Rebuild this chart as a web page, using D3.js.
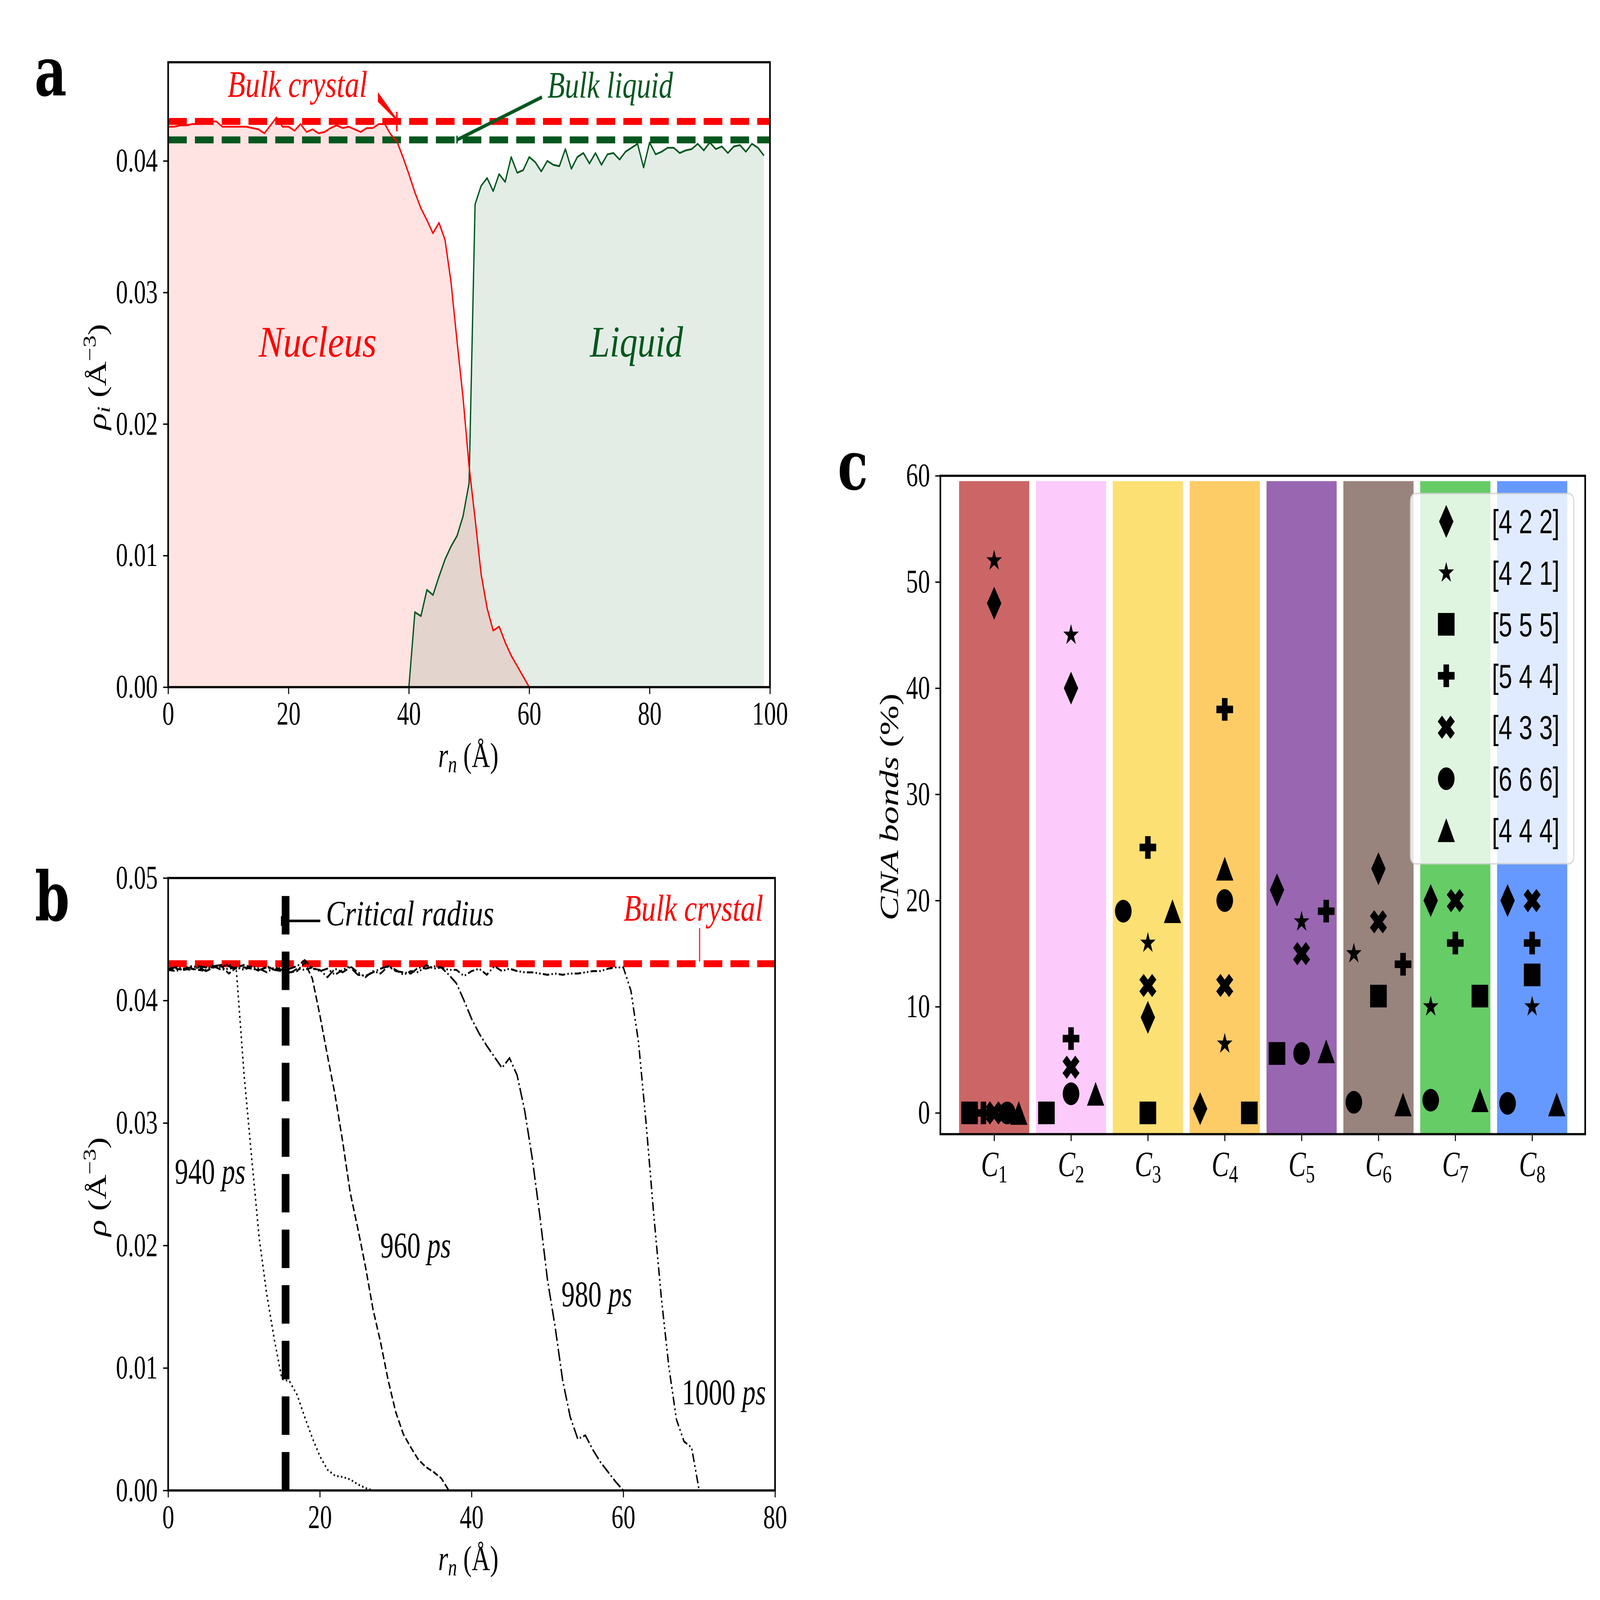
<!DOCTYPE html>
<html>
<head>
<meta charset="utf-8">
<script src="https://cdn.jsdelivr.net/npm/d3@7"></script>
<style>
  html, body { margin: 0; padding: 0; background: #fff; overflow: hidden; }
  svg { display: block; width: 100vw; height: 100vh; }
</style>
</head>
<body>
<svg id="fig"></svg>
<script>
// ---------- panel a : radial density of nucleus / liquid ----------
var rNucleus = d3.range(0, 61);
var rhoNucleus = [
  0.0426,0.0426,0.0427,0.0427,0.0428,0.0428,0.0429,0.0430,0.0430,0.0426,
  0.0426,0.0426,0.0426,0.0426,0.0425,0.0424,0.0421,0.0427,0.0433,0.0426,
  0.0426,0.0423,0.0428,0.0422,0.0424,0.0421,0.0422,0.0425,0.0427,0.0425,
  0.0426,0.0424,0.0422,0.0425,0.0425,0.0428,0.0428,0.0420,0.0415,0.0403,
  0.0390,0.0376,0.0364,0.0355,0.0345,0.0353,0.0340,0.0308,0.0263,0.0220,
  0.0168,0.0128,0.0086,0.0060,0.0043,0.0046,0.0034,0.0024,0.0016,0.0008,
  0.0000];
var rLiquid = d3.range(40, 100);
var rhoLiquid = [
  0.0000,0.0057,0.0054,0.0074,0.0070,0.0084,0.0097,0.0107,0.0115,0.0130,
  0.0155,0.0367,0.0381,0.0387,0.0377,0.0390,0.0384,0.0403,0.0391,0.0393,
  0.0403,0.0399,0.0392,0.0400,0.0397,0.0396,0.0409,0.0394,0.0403,0.0406,
  0.0398,0.0406,0.0397,0.0405,0.0406,0.0401,0.0407,0.0410,0.0413,0.0395,
  0.0414,0.0405,0.0407,0.0410,0.0410,0.0406,0.0408,0.0409,0.0413,0.0408,
  0.0414,0.0409,0.0411,0.0406,0.0411,0.0412,0.0407,0.0413,0.0410,0.0404];
var bulkCrystal = 0.043, bulkLiquid = 0.0416;
var ticksAx = [0, 20, 40, 60, 80, 100];
var ticksAy = [0, 0.01, 0.02, 0.03, 0.04];

// ---------- panel b : profiles at four times ----------
var times = ["940", "960", "980", "1000"];
var r940 = d3.range(0, 28).concat([80]);
var rho940 = [
  0.0426,0.0427,0.0426,0.0428,0.0427,0.0425,0.0429,0.0427,0.0430,0.0424,
  0.0340,0.0272,0.0206,0.0160,0.0123,0.0091,0.0089,0.0078,0.0060,0.0043,
  0.0028,0.0017,0.0012,0.0011,0.0009,0.0005,0.0002,0.0000,0.0000];
var r960 = d3.range(0, 38).concat([80]);
var rho960 = [
  0.0425,0.0426,0.0425,0.0426,0.0425,0.0424,0.0427,0.0428,0.0422,0.0427,
  0.0429,0.0427,0.0424,0.0428,0.0425,0.0427,0.0423,0.0424,0.0431,0.0418,
  0.0388,0.0355,0.0323,0.0285,0.0243,0.0214,0.0183,0.0148,0.0121,0.0090,
  0.0064,0.0046,0.0035,0.0025,0.0019,0.0015,0.0010,0.0000,0.0000];
var r980 = d3.range(0, 61).concat([80]);
var rho980 = [
  0.0426,0.0427,0.0426,0.0427,0.0428,0.0427,0.0428,0.0429,0.0428,0.0426,
  0.0427,0.0426,0.0425,0.0427,0.0425,0.0424,0.0426,0.0428,0.0433,0.0426,
  0.0425,0.0419,0.0426,0.0423,0.0427,0.0421,0.0420,0.0423,0.0426,0.0428,
  0.0424,0.0423,0.0422,0.0427,0.0426,0.0428,0.0427,0.0421,0.0414,0.0400,
  0.0385,0.0373,0.0363,0.0354,0.0345,0.0353,0.0339,0.0310,0.0271,0.0224,
  0.0172,0.0134,0.0090,0.0060,0.0042,0.0045,0.0033,0.0023,0.0015,0.0007,
  0.0000,0.0000];
var r1000 = d3.range(0, 71).concat([80]);
var rho1000 = [
  0.0425,0.0424,0.0426,0.0425,0.0427,0.0424,0.0428,0.0425,0.0426,0.0427,
  0.0425,0.0428,0.0426,0.0423,0.0427,0.0425,0.0422,0.0426,0.0425,0.0427,
  0.0424,0.0426,0.0421,0.0425,0.0428,0.0423,0.0419,0.0424,0.0422,0.0428,
  0.0425,0.0421,0.0424,0.0423,0.0429,0.0426,0.0427,0.0425,0.0425,0.0420,
  0.0424,0.0426,0.0421,0.0428,0.0424,0.0426,0.0424,0.0423,0.0423,0.0422,
  0.0421,0.0422,0.0421,0.0422,0.0422,0.0423,0.0424,0.0424,0.0426,0.0427,
  0.0427,0.0408,0.0366,0.0300,0.0226,0.0158,0.0101,0.0058,0.0040,0.0035,
  0.0000,0.0000];
var criticalRadius = 15.48;
var ticksBx = [0, 20, 40, 60, 80];
var ticksBy = [0, 0.01, 0.02, 0.03, 0.04, 0.05];

// ---------- panel c : CNA bond fractions per cluster ----------
var clusterIds = ["1", "2", "3", "4", "5", "6", "7", "8"];
var clusterColors = ["#cc6666", "#fccbfc", "#fde073", "#fecc66", "#9966b2", "#99837d", "#66cc66", "#6699ff"];
var barTop = [59.5, 59.5, 59.5, 59.5, 59.5, 59.5, 59.5, 59.5];
var cnaTypes = ["[4 2 2]", "[4 2 1]", "[5 5 5]", "[5 4 4]", "[4 3 3]", "[6 6 6]", "[4 4 4]"];
var pct422 = [48, 40, 9, 0.4, 21, 23, 20, 20];
var pct421 = [52, 45, 16, 6.5, 18, 15, 10, 10];
var pct555 = [0, 0, 0, 0, 5.6, 11, 11, 13];
var pct544 = [0, 7, 25, 38, 19, 14, 16, 16];
var pct433 = [0, 4.3, 12, 12, 15, 18, 20, 20];
var pct666 = [0, 1.8, 19, 20, 5.6, 1, 1.2, 0.9];
var pct444 = [0, 1.8, 19, 23, 5.8, 0.8, 1.2, 0.8];
// sideways shift of a marker inside its bar (bar index units)
var shift422 = [0, 0, 0, -0.32, -0.32, 0, -0.32, -0.32];
var shift421 = [0, 0, 0, 0, 0, -0.32, -0.32, 0];
var shift555 = [-0.32, -0.32, 0, 0.32, -0.32, 0, 0.32, 0];
var shift544 = [-0.14, 0, 0, 0, 0.32, 0.32, 0, 0];
var shift433 = [0, 0, 0, 0, 0, 0, 0, 0];
var shift666 = [0.17, 0, -0.32, 0, 0, -0.32, -0.32, -0.32];
var shift444 = [0.32, 0.32, 0.32, 0, 0.32, 0.32, 0.32, 0.32];
var ticksCy = [0, 10, 20, 30, 40, 50, 60];

var W = 7888, H = 5784;
var SERIF = '"Liberation Serif", "DejaVu Serif", serif';
var SANS = '"Liberation Sans", Arial, sans-serif';
var RED = "#ff0000", GREEN = "#04571e";

// fill the whole window whatever its size
var svg = d3.select("#fig").attr("viewBox", [0, 0, W, H]).attr("preserveAspectRatio", "none");
svg.append("rect").attr("width", W).attr("height", H).attr("fill", "#fff");
var defs = svg.append("defs");

function styleAxis(g) {
  g.attr("font-family", SERIF).attr("font-size", 118);
  g.select(".domain").remove();
  g.selectAll(".tick line").attr("stroke", "#000").attr("stroke-width", 5);
  g.selectAll(".tick text").attr("fill", "#000");
}
function frame(g, p) {
  g.append("rect").attr("x", p.l).attr("y", p.t).attr("width", p.r - p.l).attr("height", p.b - p.t)
    .attr("fill", "none").attr("stroke", "#000").attr("stroke-width", 8);
}
function clip(id, p) {
  defs.append("clipPath").attr("id", id).append("rect")
    .attr("x", p.l).attr("y", p.t).attr("width", p.r - p.l).attr("height", p.b - p.t);
  return "url(#" + id + ")";
}
function panelLetter(txt, x, y) {
  svg.append("text").attr("x", x).attr("y", y).attr("font-family", '"DejaVu Serif", serif')
    .attr("font-weight", "bold").attr("font-size", 245).attr("fill", "#000").text(txt);
}
function pairs(xs, ys) { return xs.map(function(v, i) { return [v, ys[i]]; }); }

// =================== panel a ===================
var pa = {l: 829, r: 3796, t: 225, b: 2484};
var xA = d3.scaleLinear().domain([0, 100]).range([pa.l, pa.r]);
var yA = d3.scaleLinear().domain([0, 0.0475]).range([pa.b, pa.t]);
var gA = svg.append("g");
var plotA = gA.append("g").attr("clip-path", clip("clipA", pa));

var areaA = d3.area().x(function(d) { return xA(d[0]); }).y0(yA(0)).y1(function(d) { return yA(d[1]); });
var lineA = d3.line().x(function(d) { return xA(d[0]); }).y(function(d) { return yA(d[1]); });

plotA.append("path").datum(pairs(rNucleus, rhoNucleus)).attr("d", areaA)
  .attr("fill", RED).attr("fill-opacity", 0.11);
plotA.append("path").datum(pairs(rLiquid, rhoLiquid)).attr("d", areaA)
  .attr("fill", GREEN).attr("fill-opacity", 0.11);

[[bulkCrystal, RED], [bulkLiquid, GREEN]].forEach(function(h) {
  plotA.append("line").attr("x1", xA(0)).attr("x2", xA(100)).attr("y1", yA(h[0])).attr("y2", yA(h[0]))
    .attr("stroke", h[1]).attr("stroke-width", 25).attr("stroke-dasharray", "92,40");
});

plotA.append("path").datum(pairs(rLiquid, rhoLiquid)).attr("d", lineA)
  .attr("fill", "none").attr("stroke", GREEN).attr("stroke-width", 6.5).attr("stroke-linejoin", "round");
plotA.append("path").datum(pairs(rNucleus, rhoNucleus)).attr("d", lineA)
  .attr("fill", "none").attr("stroke", RED).attr("stroke-width", 6.5).attr("stroke-linejoin", "round");

// annotations
var tipC = [xA(38), yA(bulkCrystal)];
gA.append("path").attr("fill", RED)
  .attr("d", "M1863,333L" + (tipC[0] + 2) + "," + (tipC[1] - 8) + "L" + tipC[0] + "," + (tipC[1] - 2) + "L1863,368Z");
gA.append("line").attr("x1", tipC[0]).attr("x2", tipC[0]).attr("y1", tipC[1] - 35).attr("y2", tipC[1] + 36)
  .attr("stroke", RED).attr("stroke-width", 7);
gA.append("text").attr("x", 1122).attr("y", 350).attr("font-family", SERIF).attr("font-style", "italic")
  .attr("font-size", 135).attr("fill", RED).attr("textLength", 689).attr("lengthAdjust", "spacingAndGlyphs")
  .text("Bulk crystal");

var tipL = [xA(48), yA(bulkLiquid)];
gA.append("line").attr("x1", 2672).attr("y1", 351).attr("x2", tipL[0]).attr("y2", tipL[1])
  .attr("stroke", GREEN).attr("stroke-width", 13);
gA.append("line").attr("x1", tipL[0]).attr("x2", tipL[0]).attr("y1", tipL[1] - 15).attr("y2", tipL[1] + 13)
  .attr("stroke", GREEN).attr("stroke-width", 7);
gA.append("text").attr("x", 2699).attr("y", 353).attr("font-family", SERIF).attr("font-style", "italic")
  .attr("font-size", 135).attr("fill", GREEN).attr("textLength", 619).attr("lengthAdjust", "spacingAndGlyphs")
  .text("Bulk liquid");

gA.append("text").attr("x", 1566).attr("y", 1289).attr("text-anchor", "middle").attr("font-family", SERIF)
  .attr("font-style", "italic").attr("font-size", 158).attr("fill", RED)
  .attr("textLength", 581).attr("lengthAdjust", "spacingAndGlyphs").text("Nucleus");
gA.append("text").attr("x", 3138).attr("y", 1289).attr("text-anchor", "middle").attr("font-family", SERIF)
  .attr("font-style", "italic").attr("font-size", 158).attr("fill", GREEN)
  .attr("textLength", 459).attr("lengthAdjust", "spacingAndGlyphs").text("Liquid");

gA.append("g").attr("transform", "translate(0," + pa.b + ")")
  .call(d3.axisBottom(xA).tickValues(ticksAx).tickFormat(d3.format("d")).tickSize(25).tickPadding(27))
  .call(styleAxis);
gA.append("g").attr("transform", "translate(" + pa.l + ",0)")
  .call(d3.axisLeft(yA).tickValues(ticksAy).tickFormat(d3.format(".2f")).tickSize(25).tickPadding(26))
  .call(styleAxis);
frame(gA, pa);

function rLabel(g, x, y) {
  var t = g.append("text").attr("x", x).attr("y", y).attr("text-anchor", "middle")
    .attr("font-family", SERIF).attr("font-size", 125).attr("fill", "#000");
  t.append("tspan").attr("font-style", "italic").text("r");
  t.append("tspan").attr("font-style", "italic").attr("font-size", 88).attr("dy", 20).text("n");
  t.append("tspan").attr("dy", -20).text(" (Å)");
}
function rhoLabel(g, x, y, sub) {
  var t = g.append("text").attr("transform", "translate(" + x + "," + y + ") rotate(-90)")
    .attr("text-anchor", "middle").attr("font-family", SERIF).attr("font-size", 125).attr("fill", "#000");
  t.append("tspan").attr("font-style", "italic").text("ρ");
  if (sub) t.append("tspan").attr("font-style", "italic").attr("font-size", 88).attr("dy", 20).text(sub);
  t.append("tspan").attr("dy", sub ? -20 : 0).text(" (Å");
  t.append("tspan").attr("font-size", 88).attr("dy", -50).text("−3");
  t.append("tspan").attr("dy", 50).text(")");
}
rLabel(gA, 2309, 2772);
rhoLabel(gA, 522, 1362, "i");
panelLetter("a", 170, 346);

// =================== panel b ===================
var pb = {l: 829, r: 3821, t: 3174, b: 5388};
var xB = d3.scaleLinear().domain([0, 80]).range([pb.l, pb.r]);
var yB = d3.scaleLinear().domain([0, 0.05]).range([pb.b, pb.t]);
var gB = svg.append("g");
var plotB = gB.append("g").attr("clip-path", clip("clipB", pb));
var lineB = d3.line().x(function(d) { return xB(d[0]); }).y(function(d) { return yB(d[1]); });

plotB.append("line").attr("x1", xB(0)).attr("x2", xB(80)).attr("y1", yB(bulkCrystal)).attr("y2", yB(bulkCrystal))
  .attr("stroke", RED).attr("stroke-width", 25).attr("stroke-dasharray", "92,40");

var curvesB = [
  {r: r940, rho: rho940, dash: "7,11.5"},
  {r: r960, rho: rho960, dash: "26,11"},
  {r: r980, rho: rho980, dash: "45,11,7,11"},
  {r: r1000, rho: rho1000, dash: "32,11,7,11,7,11"}
];
curvesB.forEach(function(c) {
  plotB.append("path").datum(pairs(c.r, c.rho)).attr("d", lineB)
    .attr("fill", "none").attr("stroke", "#000").attr("stroke-width", 7).attr("stroke-dasharray", c.dash);
});

plotB.append("line").attr("x1", xB(criticalRadius)).attr("x2", xB(criticalRadius))
  .attr("y1", yB(0)).attr("y2", yB(0.05))
  .attr("stroke", "#000").attr("stroke-width", 38).attr("stroke-dasharray", "139,62");

// annotations
gB.append("line").attr("x1", 1579).attr("x2", xB(criticalRadius) - 20).attr("y1", 3329).attr("y2", 3329)
  .attr("stroke", "#000").attr("stroke-width", 9);
gB.append("line").attr("x1", xB(criticalRadius) - 20).attr("x2", xB(criticalRadius) - 20)
  .attr("y1", 3312).attr("y2", 3347).attr("stroke", "#000").attr("stroke-width", 6);
gB.append("text").attr("x", 1607).attr("y", 3346).attr("font-family", SERIF).attr("font-style", "italic")
  .attr("font-size", 128).attr("fill", "#000").attr("textLength", 829).attr("lengthAdjust", "spacingAndGlyphs")
  .text("Critical radius");
gB.append("line").attr("x1", 3449).attr("x2", 3449).attr("y1", 3355).attr("y2", yB(bulkCrystal) - 8)
  .attr("stroke", RED).attr("stroke-width", 5);
gB.append("text").attr("x", 3074).attr("y", 3328).attr("font-family", SERIF).attr("font-style", "italic")
  .attr("font-size", 135).attr("fill", RED).attr("textLength", 689).attr("lengthAdjust", "spacingAndGlyphs")
  .text("Bulk crystal");

var timeLabelPos = [[862, 4278], [1875, 4545], [2768, 4722], [3362, 5077]];
times.forEach(function(tm, i) {
  var t = gB.append("text").attr("x", timeLabelPos[i][0]).attr("y", timeLabelPos[i][1])
    .attr("font-family", SERIF).attr("font-size", 132).attr("fill", "#000");
  t.append("tspan").text(tm + " ");
  t.append("tspan").attr("font-style", "italic").text("ps");
});

gB.append("g").attr("transform", "translate(0," + pb.b + ")")
  .call(d3.axisBottom(xB).tickValues(ticksBx).tickFormat(d3.format("d")).tickSize(25).tickPadding(27))
  .call(styleAxis);
gB.append("g").attr("transform", "translate(" + pb.l + ",0)")
  .call(d3.axisLeft(yB).tickValues(ticksBy).tickFormat(d3.format(".2f")).tickSize(25).tickPadding(26))
  .call(styleAxis);
frame(gB, pb);
rLabel(gB, 2309, 5675);
rhoLabel(gB, 522, 4290, null);
panelLetter("b", 172, 3328);

// =================== panel c ===================
var pc = {l: 4636, r: 7815, t: 1720, b: 4100};
var xC = d3.scaleLinear().domain([-0.70, 7.69]).range([pc.l, pc.r]);
var yC = d3.scaleLinear().domain([-2, 60]).range([pc.b, pc.t]);
var gC = svg.append("g");
var plotC = gC.append("g").attr("clip-path", clip("clipC", pc));
var barW = xC(0.913) - xC(0);

plotC.selectAll(".bar").data(barTop).enter().append("rect").attr("class", "bar")
  .attr("x", function(d, i) { return xC(i) - barW / 2; })
  .attr("y", function(d) { return yC(d); })
  .attr("width", barW)
  .attr("height", function(d) { return yC(-2) - yC(d); })
  .attr("fill", function(d, i) { return clusterColors[i]; });

// marker shapes, sized in px
function starPath(R) {
  var p = [];
  for (var k = 0; k < 10; k++) {
    var a = -Math.PI / 2 + k * Math.PI / 5, rr = k % 2 ? R * 0.381966 : R;
    p.push([(rr * Math.cos(a)).toFixed(2), (rr * Math.sin(a)).toFixed(2)]);
  }
  return "M" + p.join("L") + "Z";
}
function polyPath(pts, s) {
  return "M" + pts.map(function(q) { return [q[0] * s, q[1] * s]; }).join("L") + "Z";
}
var markerPaths = [
  "M0,-59.5L35.5,0L0,59.5L-35.5,0Z",
  starPath(40),
  "M-41,-41H41V41H-41Z",
  polyPath([[-1,-3],[1,-3],[1,-1],[3,-1],[3,1],[1,1],[1,3],[-1,3],[-1,1],[-3,1],[-3,-1],[-1,-1]], 41 / 3),
  polyPath([[-1,-2],[0,-1],[1,-2],[2,-1],[1,0],[2,1],[1,2],[0,1],[-1,2],[-2,1],[-1,0],[-2,-1]], 21),
  "M-41,0A41,41 0 1,0 41,0A41,41 0 1,0 -41,0Z",
  "M0,-43L42.5,43L-42.5,43Z"
];
var pctSeries = [pct422, pct421, pct555, pct544, pct433, pct666, pct444];
var shiftSeries = [shift422, shift421, shift555, shift544, shift433, shift666, shift444];

pctSeries.forEach(function(vals, k) {
  plotC.selectAll(".m" + k).data(vals).enter().append("path").attr("class", "m" + k)
    .attr("d", markerPaths[k])
    .attr("transform", function(d, i) { return "translate(" + xC(i + shiftSeries[k][i]) + "," + yC(d) + ")"; })
    .attr("fill", "#000");
});

// legend
var leg = gC.append("g");
leg.append("rect").attr("x", 6953).attr("y", 1784).attr("width", 806).attr("height", 1339).attr("rx", 26)
  .attr("fill", "#fff").attr("fill-opacity", 0.8).attr("stroke", "#cccccc").attr("stroke-opacity", 0.8)
  .attr("stroke-width", 5);
cnaTypes.forEach(function(name, k) {
  var yy = 1885 + k * 186;
  leg.append("path").attr("d", markerPaths[k]).attr("transform", "translate(7130," + yy + ")").attr("fill", "#000");
  leg.append("text").attr("x", 7355).attr("y", yy).attr("dy", "0.36em").attr("font-family", SANS)
    .attr("font-size", 120).attr("fill", "#000").text(name);
});

var axC = gC.append("g").attr("transform", "translate(0," + pc.b + ")")
  .call(d3.axisBottom(xC).tickValues(d3.range(clusterIds.length)).tickFormat(function() { return ""; })
    .tickSize(25).tickPadding(36))
  .call(styleAxis);
axC.selectAll(".tick text").each(function(d) {
  var t = d3.select(this).attr("font-size", 128);
  t.append("tspan").attr("font-style", "italic").text("C");
  t.append("tspan").attr("font-size", 90).attr("dy", 22).text(clusterIds[d]);
});
gC.append("g").attr("transform", "translate(" + pc.l + ",0)")
  .call(d3.axisLeft(yC).tickValues(ticksCy).tickFormat(d3.format("d")).tickSize(25).tickPadding(26))
  .call(styleAxis);
frame(gC, pc);

var yl = gC.append("text").attr("transform", "translate(4428,2917) rotate(-90)").attr("text-anchor", "middle")
  .attr("font-family", SERIF).attr("font-size", 130).attr("fill", "#000");
yl.append("tspan").attr("font-style", "italic").text("CNA bonds");
yl.append("tspan").text(" (%)");
panelLetter("c", 4130, 1770);
</script>
</body>
</html>
